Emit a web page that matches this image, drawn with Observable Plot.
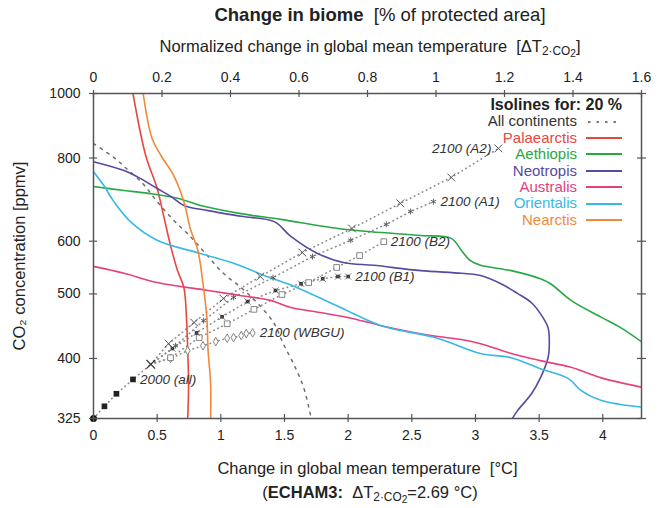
<!DOCTYPE html>
<html>
<head>
<meta charset="utf-8">
<script src="https://cdn.jsdelivr.net/npm/d3@7"></script>
<script src="https://cdn.jsdelivr.net/npm/@observablehq/plot@0.6"></script>
<style>
  html, body { margin: 0; padding: 0; background: #fff; }
  body { font-family: "Liberation Sans", Arial, sans-serif; color: #222; }
  #wrap { position: relative; width: 664px; height: 508px; overflow: hidden; }
  .title { height: 30px; line-height: 30px; font-size: 18.5px; text-align: center; padding-left: 96px; box-sizing: border-box; width: 664px; }
  .sub { height: 28px; line-height: 32px; font-size: 16.5px; text-align: center; padding-left: 76px; box-sizing: border-box; width: 664px; }
  .cap { height: 30px; line-height: 28px; font-size: 16.5px; text-align: center; padding-left: 76px; box-sizing: border-box; width: 664px; }
  sub { font-size: 72%; vertical-align: -0.25em; line-height: 0; }
  sub sub { font-size: 85%; vertical-align: -0.2em; }
  #legend { position: absolute; right: 42px; top: 97px; font-size: 15px; }
  #legend .row { display: flex; justify-content: flex-end; align-items: center; height: 16.4px; line-height: 16.4px; }
  #legend .head { font-size: 16px; }
  #legend svg { margin-left: 9px; display: block; }
  #chart svg { display: block; }
</style>
</head>
<body>
<div id="wrap">
  <div class="title"><b>Change in biome</b>&nbsp; [% of protected area]</div>
  <div class="sub">Normalized change in global mean temperature&nbsp; [ΔT<sub>2·CO<sub>2</sub></sub>]</div>
  <div id="chart"></div>
  <div class="cap">(<b>ECHAM3:</b>&nbsp; ΔT<sub>2·CO<sub>2</sub></sub>=2.69 °C)</div>
  <div id="legend"></div>
</div>
<script>
// ---- constants / tick labels ----
const ECS = 2.69; // ECHAM3 climate sensitivity, °C
const xTicks = [0, 0.5, 1, 1.5, 2, 2.5, 3, 3.5, 4];
const normTicks = [0, 0.2, 0.4, 0.6, 0.8, 1, 1.2, 1.4, 1.6];
const yTicks = [325, 400, 500, 600, 800, 1000];

// ---- isolines (20 %): temperature change (°C) vs CO2 (ppmv) ----
const allT = [0, 0.094, 0.17, 0.24, 0.385, 0.50, 0.63, 0.76, 0.88, 1.02, 1.16, 1.29, 1.42, 1.49, 1.57, 1.65, 1.71];
const allC = [841, 818, 799, 777, 733, 688, 645, 610, 575, 537, 511, 484, 451, 421, 393, 362, 325];

const palT = [0.31, 0.41, 0.50, 0.55, 0.605, 0.66, 0.71, 0.73, 0.74, 0.747, 0.74];
const palC = [1000, 807, 720, 656, 591, 542, 511, 461, 411, 367, 325];

const aetT = [0, 0.24, 0.43, 0.66, 0.84, 1.16, 1.47, 1.92, 2.18, 2.57, 2.81, 2.89, 2.96, 3.04, 3.28, 3.51, 3.59, 3.75, 3.99, 4.14, 4.31];
const aetC = [725, 715, 708, 696, 679, 660, 647, 627, 620, 612, 606, 581, 561, 552, 542, 527, 518, 489, 461, 445, 423];

const neoT = [0, 0.24, 0.37, 0.50, 0.61, 0.71, 0.90, 1.16, 1.42, 1.55, 1.76, 1.97, 2.20, 2.57, 2.89, 3.04, 3.20, 3.33, 3.44, 3.51, 3.57, 3.58, 3.57, 3.51, 3.44, 3.33, 3.29];
const neoC = [790, 766, 745, 720, 700, 679, 667, 654, 642, 610, 575, 557, 552, 542, 537, 533, 518, 501, 485, 467, 445, 421, 401, 374, 354, 334, 325];

const ausT = [0, 0.24, 0.50, 0.90, 1.16, 1.39, 1.55, 1.78, 2.04, 2.26, 2.65, 2.89, 3.04, 3.28, 3.51, 3.75, 3.99, 4.31];
const ausC = [550, 537, 520, 506, 497, 489, 477, 469, 459, 448, 433, 427, 421, 407, 397, 388, 374, 362];

const oriT = [0, 0.08, 0.16, 0.29, 0.50, 0.84, 1.10, 1.34, 1.60, 1.94, 2.26, 2.70, 3.04, 3.28, 3.51, 3.73, 3.83, 3.99, 4.31];
const oriC = [763, 728, 688, 642, 602, 575, 556, 533, 511, 477, 448, 429, 407, 401, 386, 373, 358, 346, 338];

const nearT = [0.39, 0.46, 0.53, 0.63, 0.71, 0.76, 0.82, 0.86, 0.89, 0.90, 0.92, 0.92];
const nearC = [1000, 856, 807, 753, 688, 627, 581, 518, 461, 411, 367, 325];

// ---- emission scenario paths ----
const histT = [0, 0.086, 0.18, 0.31, 0.45];
const histC = [325, 339, 354, 372, 392];
const marks2000T = [0.086, 0.18, 0.31];
const marks2000C = [339, 354, 372];

const a2T = [0.45, 0.59, 0.79, 1.02, 1.31, 1.64, 2.03, 2.41, 2.81, 3.18];
const a2C = [392, 421, 453, 492, 531, 577, 627, 684, 748, 827];
const a1T = [0.45, 0.645, 0.865, 1.10, 1.41, 1.72, 2.02, 2.30, 2.49, 2.67];
const a1C = [392, 418, 456, 494, 529, 569, 602, 636, 665, 688];
const b2T = [0.45, 0.605, 0.83, 1.05, 1.26, 1.48, 1.69, 1.91, 2.09, 2.28];
const b2C = [392, 401, 430, 451, 474, 499, 520, 548, 571, 599];
const b1T = [0.45, 0.62, 0.81, 1.01, 1.21, 1.43, 1.63, 1.80, 1.92, 2.00];
const b1C = [392, 414, 437, 462, 487, 506, 518, 527, 531, 531];
const wbT = [0.45, 0.605, 0.74, 0.86, 0.96, 1.05, 1.10, 1.16, 1.20, 1.25];
const wbC = [392, 400, 411, 418, 424, 429, 430, 433, 436, 437];

const seriesNames = ["All continents", "Palaearctis", "Aethiopis", "Neotropis", "Australis", "Orientalis", "Nearctis"];
const seriesColors = ["#7a7a7a", "#e8473f", "#27a844", "#574aa0", "#e63f7e", "#35b9e6", "#f0893a"];

// ---- build tables ----
const rows = (T, C) => T.map((t, i) => ({t, c: C[i]}));
const regions = [
  rows(palT, palC), rows(aetT, aetC), rows(neoT, neoC),
  rows(ausT, ausC), rows(oriT, oriC), rows(nearT, nearC)
];
const scen = {A2: rows(a2T, a2C), A1: rows(a1T, a1C), B2: rows(b2T, b2C), B1: rows(b1T, b1C), WBGU: rows(wbT, wbC)};
const last = a => a[a.length - 1];
const labelsStart = [
  {...last(scen.A1), text: "2100 (A1)"},
  {...last(scen.B2), text: "2100 (B2)"},
  {...last(scen.B1), text: "2100 (B1)"},
  {...last(scen.WBGU), text: "2100 (WBGU)"},
  {t: marks2000T[2], c: marks2000C[2], text: "2000 (all)"}
];
const labelsEnd = [{...last(scen.A2), text: "2100 (A2)"}];

const axisColor = "#555";
const dotted = {stroke: "#8a8a8a", strokeWidth: 1.6, strokeDasharray: "0.5,4", strokeLinecap: "round", curve: "linear"};
const innerH = 420 - 35 - 60, innerW = 664 - 93 - 23;
const fmt = d3.format("~g");

const chart = Plot.plot({
  width: 664, height: 420,
  marginLeft: 93, marginRight: 23, marginTop: 35, marginBottom: 60,
  style: {fontFamily: '"Liberation Sans", Arial, sans-serif', fontSize: "14px", color: "#222", background: "white", overflow: "visible"},
  x: {domain: [0, 1.6 * ECS]},
  y: {type: "log", domain: [325, 1000]},
  marks: [
    // scenario paths
    Plot.line(rows(histT, histC), {x: "t", y: "c", ...dotted}),
    ...Object.values(scen).map(s => Plot.line(s, {x: "t", y: "c", ...dotted})),
    // isolines
    Plot.line(rows(allT, allC), {x: "t", y: "c", stroke: "#6e6e6e", strokeWidth: 1.5, strokeDasharray: "2.5,5.5", curve: "catmull-rom", clip: true}),
    ...regions.map((r, i) => Plot.line(r, {x: "t", y: "c", stroke: seriesColors[i + 1], strokeWidth: 1.6, curve: "catmull-rom", clip: true})),
    // scenario markers
    Plot.dot(rows(marks2000T, marks2000C), {x: "t", y: "c", symbol: "square", r: 3.2, fill: "#222"}),
    Plot.dot(scen.WBGU.slice(1), {x: "t", y: "c", symbol: "diamond", r: 2.6, stroke: "#777", strokeWidth: 0.9, fill: "white"}),
    Plot.dot(scen.B2.slice(1), {x: "t", y: "c", symbol: "square", r: 3.2, stroke: "#777", strokeWidth: 0.9, fill: "white"}),
    Plot.dot(scen.B1.slice(1), {x: "t", y: "c", symbol: "square", r: 2, fill: "#222"}),
    Plot.dot(scen.B1.slice(1), {x: "t", y: "c", symbol: "times", r: 3, stroke: "#666", strokeWidth: 0.8}),
    Plot.dot(scen.A1.slice(1), {x: "t", y: "c", symbol: "asterisk", r: 2.8, stroke: "#555", strokeWidth: 0.9}),
    Plot.dot(scen.A2.slice(1), {x: "t", y: "c", symbol: "times", r: 3.6, stroke: "#555", strokeWidth: 1}),
    Plot.dot([{t: 0.45, c: 392}], {x: "t", y: "c", symbol: "times", r: 4, stroke: "#333", strokeWidth: 1.2}),
    Plot.dot([{t: 0, c: 325}], {x: "t", y: "c", r: 3.5, fill: "#111"}),
    // scenario labels
    Plot.text(labelsStart, {x: "t", y: "c", text: "text", textAnchor: "start", dx: 7, fontStyle: "italic", fontSize: 13.5, fill: "#333"}),
    Plot.text(labelsEnd, {x: "t", y: "c", text: "text", textAnchor: "end", dx: -7, fontStyle: "italic", fontSize: 13.5, fill: "#333"}),
    // frame & axes
    Plot.frame({stroke: axisColor, strokeWidth: 1.5}),
    Plot.axisX(xTicks, {anchor: "bottom", tickSize: 4, tickPadding: 8, stroke: axisColor, strokeWidth: 1.2, tickFormat: fmt,
      label: "Change in global mean temperature  [°C]", labelAnchor: "center", labelArrow: "none", labelOffset: 55}),
    Plot.axisX(normTicks.map(n => n * ECS), {anchor: "top", tickSize: 4, tickPadding: 8, stroke: axisColor, strokeWidth: 1.2,
      tickFormat: d => fmt(+(d / ECS).toFixed(1)), label: null}),
    Plot.axisY(yTicks, {anchor: "left", tickSize: 4, tickPadding: 9, stroke: axisColor, strokeWidth: 1.2,
      tickFormat: d => String(d), label: "CO₂ concentration [ppmv]", labelAnchor: "center", labelArrow: "none", labelOffset: 80}),
    Plot.axisY(yTicks, {anchor: "right", tickSize: 4, stroke: axisColor, strokeWidth: 1.2, tickFormat: () => "", label: null}),
    // inward tick marks
    Plot.tickX(xTicks, {x: d => d, insetTop: innerH - 4, stroke: axisColor, strokeWidth: 1.2}),
    Plot.tickX(normTicks.map(n => n * ECS), {x: d => d, insetBottom: innerH - 4, stroke: axisColor, strokeWidth: 1.2}),
    Plot.tickY(yTicks, {y: d => d, insetRight: innerW - 4, stroke: axisColor, strokeWidth: 1.2}),
    Plot.tickY(yTicks, {y: d => d, insetLeft: innerW - 4, stroke: axisColor, strokeWidth: 1.2})
  ]
});
d3.select(chart).selectAll('g[aria-label="x-axis label"], g[aria-label="y-axis label"]').attr("font-size", 16.5);
document.getElementById("chart").appendChild(chart);

// ---- legend (HTML overlay inside the frame) ----
const legend = document.getElementById("legend");
const head = document.createElement("div");
head.className = "row head";
head.innerHTML = "<b>Isolines for: 20 %</b>";
legend.appendChild(head);
seriesNames.forEach((name, i) => {
  const row = document.createElement("div");
  row.className = "row";
  const span = document.createElement("span");
  span.textContent = name;
  span.style.color = i === 0 ? "#333" : seriesColors[i];
  row.appendChild(span);
  const ns = "http://www.w3.org/2000/svg";
  const s = document.createElementNS(ns, "svg");
  s.setAttribute("width", 36); s.setAttribute("height", 4);
  const l = document.createElementNS(ns, "line");
  l.setAttribute("x1", 0); l.setAttribute("x2", 36); l.setAttribute("y1", 2); l.setAttribute("y2", 2);
  l.setAttribute("stroke", seriesColors[i]); l.setAttribute("stroke-width", 1.8);
  if (i === 0) { l.setAttribute("stroke-dasharray", "2.5,6"); l.setAttribute("stroke-dashoffset", "-2"); }
  s.appendChild(l);
  row.appendChild(s);
  legend.appendChild(row);
});
</script>
</body>
</html>
